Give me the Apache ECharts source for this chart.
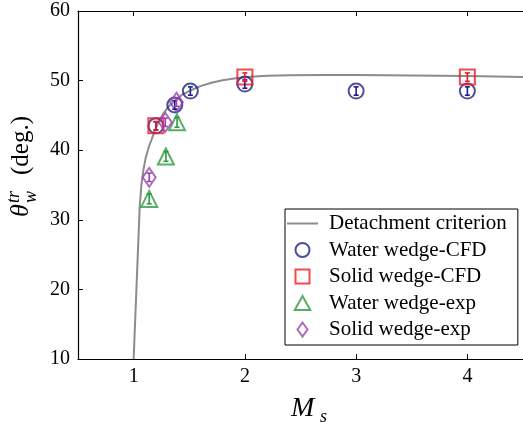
<!DOCTYPE html>
<html>
<head>
    <meta charset="utf-8">
    <title>Triple point angle</title>
    <script src="https://cdn.jsdelivr.net/npm/echarts@6/dist/echarts.min.js"></script>
    <style>
        html, body { margin: 0; padding: 0; background: #fff; }
    </style>
</head>
<body>
    <div id="main" style="width: 523px; height: 423px;"></div>
    <script>
        var SERIF = 'Liberation Serif';

        // detachment criterion curve
        var curveMs = [1.0, 1.015, 1.03, 1.045, 1.055, 1.07, 1.088, 1.11, 1.135, 1.161, 1.19, 1.22, 1.26, 1.31,
            1.37, 1.43, 1.5, 1.6, 1.7, 1.8, 1.92, 2.05, 2.2, 2.4, 2.7, 3.0, 3.5, 4.0, 4.5];
        var curveTheta = [10, 16, 22, 28, 32, 35, 37.2, 39, 40.4, 41.5, 42.8, 43.9, 45.1, 46.2,
            47.1, 47.9, 48.5, 49.2, 49.7, 50.05, 50.33, 50.55, 50.7, 50.78, 50.8, 50.8, 50.73, 50.65, 50.5];

        var waterCfdMs = [1.2, 1.37, 1.51, 2, 3, 4];
        var waterCfdTheta = [43.5, 46.5, 48.5, 49.5, 48.5, 48.5];
        var waterCfdErr = [0.6, 0.6, 0.6, 0.6, 0.6, 0.6];

        var solidCfdMs = [1.2, 2, 4];
        var solidCfdTheta = [43.5, 50.5, 50.5];
        var solidCfdErr = [0.6, 0.6, 0.6];

        var waterExpMs = [1.14, 1.29, 1.39];
        var waterExpTheta = [33, 39.1, 44];
        var waterExpErr = [0.7, 0.7, 0.7];

        var solidExpMs = [1.14, 1.285, 1.385];
        var solidExpTheta = [36.1, 44, 46.9];
        var solidExpErr = [0.6, 0.6, 0.6];

        var xTicks = [1, 2, 3, 4];

        var BLUE = '#1f1f8a', RED = '#ec1c24', GREEN = '#2e9a3e', PURPLE = '#9b42b0', GREY = '#8c8c8c';

        var chartDom = document.getElementById('main');
        var myChart = echarts.init(chartDom, null, { renderer: 'canvas' });

        function zip(xs, ys) {
            return xs.map(function (x, i) { return [x, ys[i]]; });
        }
        function zip3(xs, ys, es) {
            return xs.map(function (x, i) { return [x, ys[i], es[i]]; });
        }

        function markerSeries(name, xs, ys, symbol, size, color) {
            return {
                name: name,
                type: 'scatter',
                symbol: symbol,
                symbolSize: size,
                z: 4,
                itemStyle: {
                    color: 'rgba(255,255,255,0)',
                    borderColor: color,
                    borderWidth: 2
                },
                emphasis: { disabled: true },
                data: zip(xs, ys)
            };
        }

        function errorSeries(xs, ys, es, color) {
            return {
                type: 'custom',
                z: 5,
                encode: { x: 0, y: 1 },
                data: zip3(xs, ys, es),
                renderItem: function (params, api) {
                    var x = api.value(0);
                    var y = api.value(1);
                    var e = api.value(2);
                    var top = api.coord([x, y + e]);
                    var bot = api.coord([x, y - e]);
                    var hw = 2.5;
                    var st = { stroke: color, lineWidth: 1.6 };
                    return {
                        type: 'group',
                        children: [
                            { type: 'line', shape: { x1: top[0], y1: top[1], x2: bot[0], y2: bot[1] }, style: st },
                            { type: 'line', shape: { x1: top[0] - hw, y1: top[1], x2: top[0] + hw, y2: top[1] }, style: st },
                            { type: 'line', shape: { x1: bot[0] - hw, y1: bot[1], x2: bot[0] + hw, y2: bot[1] }, style: st }
                        ]
                    };
                }
            };
        }

        var axisText = { fontFamily: SERIF, fontSize: 20, color: '#000' };

        var option = {
            animation: false,
            backgroundColor: '#fff',
            grid: {
                left: 78,
                top: 11,
                right: -9,
                bottom: 64
            },
            xAxis: [
                {
                    type: 'value',
                    min: 0.5,
                    max: 4.5,
                    position: 'bottom',
                    axisLine: { show: true, onZero: false, lineStyle: { color: '#000', width: 1.2 } },
                    axisTick: { show: true, inside: true, length: 5, customValues: xTicks, lineStyle: { color: '#000' } },
                    axisLabel: Object.assign({ margin: 8, customValues: xTicks }, axisText),
                    splitLine: { show: false }
                },
                {
                    type: 'value',
                    min: 0.5,
                    max: 4.5,
                    position: 'top',
                    axisLine: { show: true, onZero: false, lineStyle: { color: '#000', width: 1.2 } },
                    axisTick: { show: true, inside: true, length: 5, customValues: xTicks, lineStyle: { color: '#000' } },
                    axisLabel: { show: false },
                    splitLine: { show: false }
                }
            ],
            yAxis: {
                type: 'value',
                min: 10,
                max: 60,
                interval: 10,
                axisLine: { show: true, onZero: false, lineStyle: { color: '#000', width: 1.2 } },
                axisTick: { show: true, inside: true, length: 5, lineStyle: { color: '#000' } },
                axisLabel: Object.assign({ margin: 8 }, axisText),
                splitLine: { show: false }
            },
            legend: {
                data: [
                    { name: 'Detachment criterion', icon: 'path://M0,0 h31 v2 h-31 z', itemStyle: { color: GREY, borderWidth: 0 } },
                    { name: 'Water wedge-CFD', icon: 'circle' },
                    { name: 'Solid wedge-CFD', icon: 'path://M0,0 h10 v10 h-10 z' },
                    { name: 'Water wedge-exp', icon: 'path://M5,0 L10,9 L0,9 Z' },
                    { name: 'Solid wedge-exp', icon: 'path://M5,0 L10,7 L5,14 L0,7 Z' }
                ],
                orient: 'vertical',
                left: 285,
                top: 209,
                backgroundColor: '#fff',
                borderColor: '#000',
                borderWidth: 1,
                borderRadius: 0,
                padding: [4, 11, 5, 2],
                itemWidth: 31,
                itemHeight: 14,
                itemGap: 5.5,
                selectedMode: false,
                textStyle: {
                    fontFamily: SERIF,
                    fontSize: 21,
                    lineHeight: 21,
                    color: '#000',
                    padding: [0, 0, 0, 6]
                }
            },
            graphic: [
                {
                    type: 'group',
                    x: 34,
                    y: 217,
                    rotation: Math.PI / 2,
                    children: [
                        { type: 'text', x: 0, y: 0, style: { text: 'θ', font: 'italic 26px ' + SERIF, fill: '#000', textVerticalAlign: 'bottom' } },
                        { type: 'text', x: 14, y: 6, style: { text: 'w', font: 'italic 18px ' + SERIF, fill: '#000', textVerticalAlign: 'bottom' } },
                        { type: 'text', x: 14, y: -11, style: { text: 'tr', font: 'italic 18px ' + SERIF, fill: '#000', textVerticalAlign: 'bottom' } },
                        { type: 'text', x: 42, y: 0, style: { text: '(deg.)', font: '25px ' + SERIF, fill: '#000', textVerticalAlign: 'bottom' } }
                    ]
                },
                {
                    type: 'group',
                    x: 291,
                    y: 423,
                    children: [
                        { type: 'text', x: 0, y: 0, style: { text: 'M', font: 'italic 28px ' + SERIF, fill: '#000', textVerticalAlign: 'bottom' } },
                        { type: 'text', x: 29, y: 3, style: { text: 's', font: 'italic 18px ' + SERIF, fill: '#000', textVerticalAlign: 'bottom' } }
                    ]
                }
            ],
            series: [
                {
                    name: 'Detachment criterion',
                    type: 'line',
                    data: zip(curveMs, curveTheta),
                    symbol: 'none',
                    showSymbol: false,
                    smooth: false,
                    clip: true,
                    z: 2,
                    lineStyle: { color: GREY, width: 2 },
                    itemStyle: { color: GREY },
                    emphasis: { disabled: true }
                },
                markerSeries('Water wedge-CFD', waterCfdMs, waterCfdTheta, 'circle', 15, BLUE),
                markerSeries('Solid wedge-CFD', solidCfdMs, solidCfdTheta, 'rect', 15, RED),
                markerSeries('Water wedge-exp', waterExpMs, waterExpTheta, 'triangle', 16, GREEN),
                markerSeries('Solid wedge-exp', solidExpMs, solidExpTheta, 'diamond', [13, 19], PURPLE),
                errorSeries(waterCfdMs, waterCfdTheta, waterCfdErr, BLUE),
                errorSeries(solidCfdMs, solidCfdTheta, solidCfdErr, RED),
                errorSeries(waterExpMs, waterExpTheta, waterExpErr, GREEN),
                errorSeries(solidExpMs, solidExpTheta, solidExpErr, PURPLE)
            ]
        };

        myChart.setOption(option);
    </script>
</body>
</html>
